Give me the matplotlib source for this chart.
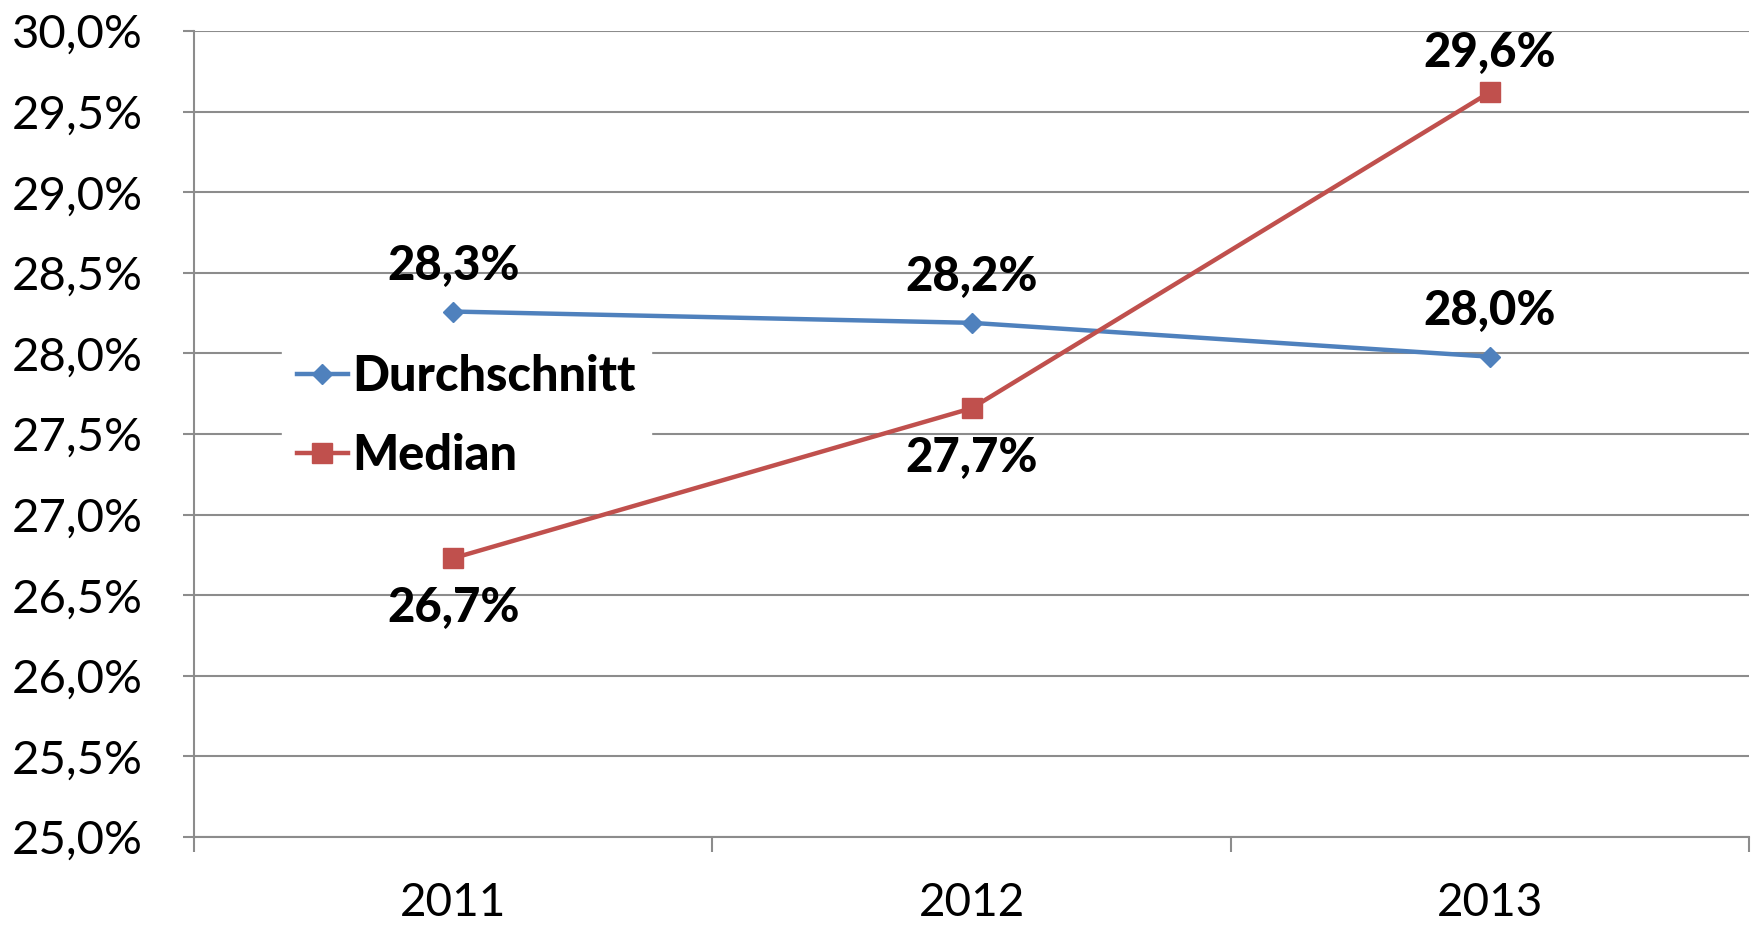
import matplotlib
matplotlib.use("Agg")
import matplotlib.pyplot as plt
from matplotlib.ticker import FuncFormatter, MultipleLocator

years = ["2011", "2012", "2013"]
durchschnitt = [28.26, 28.19, 27.98]
median = [26.73, 27.66, 29.62]
# label offsets (points): positive above, negative below
dur_offsets = [33, 33, 33]
med_offsets = [-36, -36, 28]

blue = "#4F81BD"
red = "#C0504D"
grid_col = "#8C8C8C"

plt.rcParams["font.family"] = ["Lato", "DejaVu Sans"]

fig = plt.figure(figsize=(17.56, 9.26), dpi=100)
ax = fig.add_axes([0.1105, 0.096, 0.8855, 0.8705])

x = list(range(len(years)))
ax.plot(x, durchschnitt, color=blue, lw=3.2, marker="D", ms=10, label="Durchschnitt", zorder=3)
ax.plot(x, median, color=red, lw=3.2, marker="s", ms=14, label="Median", zorder=3)

def fmt(v):
    return f"{v:.1f}".replace(".", ",") + "%"

for xi, v, off in zip(x, durchschnitt, dur_offsets):
    ax.annotate(fmt(v), (xi, v), xytext=(0, off), textcoords="offset points",
                ha="center", va="center", fontsize=34, fontweight="black")
for xi, v, off in zip(x, median, med_offsets):
    ax.annotate(fmt(v), (xi, v), xytext=(0, off), textcoords="offset points",
                ha="center", va="center", fontsize=34, fontweight="black")

ax.set_xlim(-0.5, 2.5)
ax.set_ylim(25, 30)
ax.yaxis.set_major_locator(MultipleLocator(0.5))
ax.yaxis.set_major_formatter(FuncFormatter(lambda v, p: fmt(v)))
ax.grid(axis="y", color=grid_col, lw=1.5, zorder=0)

ax.set_xticks(x)
ax.set_xticklabels(years)
ax.set_xticks([-0.5, 0.5, 1.5, 2.5], minor=True)
ax.tick_params(axis="x", which="major", length=0, pad=32, labelsize=33)
ax.tick_params(axis="x", which="minor", length=11, width=1.5, color=grid_col)
ax.tick_params(axis="y", length=8, width=1.5, color=grid_col, pad=29, labelsize=34)

for s in ["top", "right"]:
    ax.spines[s].set_visible(False)
for s in ["left", "bottom"]:
    ax.spines[s].set_color(grid_col)
    ax.spines[s].set_linewidth(1.5)

leg = ax.legend(loc="center left", bbox_to_anchor=(0.041, 0.522), frameon=True,
                prop={"size": 35, "weight": "black"}, handlelength=1.05,
                handletextpad=0.1, labelspacing=0.7, borderpad=0.3)
leg.get_frame().set_facecolor("white")
leg.get_frame().set_edgecolor("white")
leg.get_frame().set_alpha(1)
leg.set_zorder(2.5)

fig.savefig("out.png", dpi=100)
